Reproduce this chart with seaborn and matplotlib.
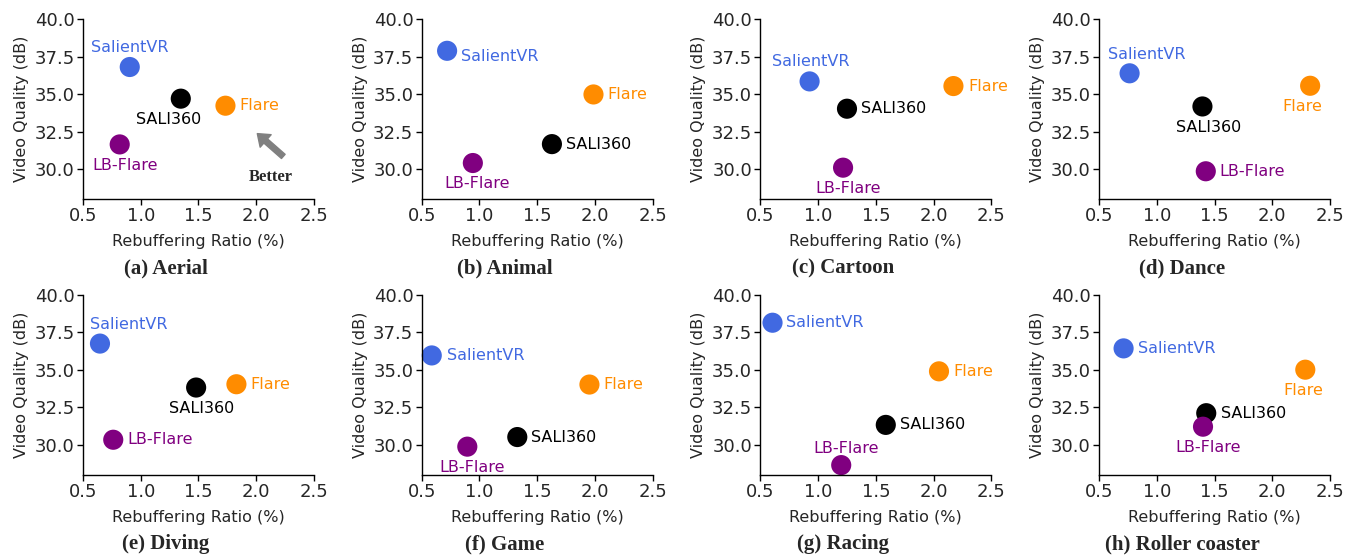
import pandas as pd
import numpy as np
import seaborn as sns
import matplotlib.pyplot as plt
from matplotlib.ticker import FormatStrFormatter

# scenes and methods
scenes = ["Aerial", "Animal", "Cartoon", "Dance", "Diving", "Game", "Racing", "Roller coaster"]
letters = ["a", "b", "c", "d", "e", "f", "g", "h"]
methods = ["SalientVR", "Flare", "SALI360", "LB-Flare"]

# rebuffering ratio (%) and video quality (dB), one value per scene
salientvr_x = [0.905, 0.72, 0.926, 0.764, 0.647, 0.587, 0.605, 0.712]
salientvr_y = [36.80, 37.88, 35.84, 36.38, 36.76, 35.97, 38.15, 36.44]
flare_x = [1.734, 1.988, 2.172, 2.328, 1.829, 1.953, 2.047, 2.286]
flare_y = [34.22, 34.97, 35.53, 35.55, 34.05, 34.03, 34.91, 35.02]
sali360_x = [1.347, 1.628, 1.250, 1.395, 1.480, 1.328, 1.586, 1.428]
sali360_y = [34.69, 31.66, 34.02, 34.17, 33.83, 30.53, 31.34, 32.12]
lbflare_x = [0.818, 0.943, 1.216, 1.424, 0.762, 0.895, 1.200, 1.400]
lbflare_y = [31.64, 30.40, 30.09, 29.85, 30.35, 29.89, 28.66, 31.22]

xs = [salientvr_x, flare_x, sali360_x, lbflare_x]
ys = [salientvr_y, flare_y, sali360_y, lbflare_y]

rows = []
for m, xv, yv in zip(methods, xs, ys):
    for s, x, y in zip(scenes, xv, yv):
        rows.append({"scene": s, "method": m, "rebuf": x, "quality": y})
df = pd.DataFrame(rows)

palette = {"SalientVR": "#4169E1", "Flare": "#FF8C00", "SALI360": "black", "LB-Flare": "#800080"}

# label placement per panel: (dx px, dy px, ha) for SalientVR, Flare, SALI360, LB-Flare
label_pos = [
    [(0, 20, "center"), (14, 0, "left"), (-12, -21, "center"), (5, -21, "center")],
    [(14, -6, "left"), (14, 0, "left"), (14, 0, "left"), (4, -20, "center")],
    [(1, 20, "center"), (15, 0, "left"), (14, 0, "left"), (5, -21, "center")],
    [(17, 19, "center"), (-8, -21, "center"), (6, -21, "center"), (14, 0, "left")],
    [(29, 19, "center"), (14, 0, "left"), (5, -21, "center"), (14, 0, "left")],
    [(15, 0, "left"), (14, 0, "left"), (14, 0, "left"), (5, -21, "center")],
    [(13, 0, "left"), (14, 0, "left"), (14, 0, "left"), (5, 17, "center")],
    [(14, 0, "left"), (-2, -21, "center"), (15, 0, "left"), (5, -21, "center")],
]

sns.set_style("ticks")
plt.rcParams['font.family'] = ['DejaVu Sans']

fig, axes = plt.subplots(2, 4, figsize=(13.54, 5.59), dpi=100)
fig.subplots_adjust(left=83/1354, right=1330/1354, top=1-19/559, bottom=1-475/559,
                    wspace=0.467, hspace=0.533)

for i, ax in enumerate(axes.flatten()):
    sub = df[df["scene"] == scenes[i]]
    sns.scatterplot(data=sub, x="rebuf", y="quality", hue="method", palette=palette,
                    s=210, edgecolor="none", legend=False, ax=ax, clip_on=False)
    for j, m in enumerate(methods):
        r = sub[sub["method"] == m].iloc[0]
        dx, dy, ha = label_pos[i][j]
        ax.annotate(m, (r["rebuf"], r["quality"]), xytext=(dx, dy), textcoords="offset pixels",
                    ha=ha, va="center", fontsize=11.5, color=palette[m])
    ax.set_xlim(0.5, 2.5)
    ax.set_ylim(28, 40)
    ax.set_xticks([0.5, 1.0, 1.5, 2.0, 2.5])
    ax.set_yticks([30.0, 32.5, 35.0, 37.5, 40.0])
    ax.xaxis.set_major_formatter(FormatStrFormatter("%.1f"))
    ax.yaxis.set_major_formatter(FormatStrFormatter("%.1f"))
    ax.tick_params(labelsize=13, length=4, width=1, pad=2, color="black")
    ax.set_xlabel("Rebuffering Ratio (%)", fontsize=11.5, labelpad=6)
    ax.set_ylabel("Video Quality (dB)", fontsize=11.5, labelpad=4)
    for sp in ["left", "bottom"]:
        ax.spines[sp].set_color("black")
        ax.spines[sp].set_linewidth(1.0)
    sns.despine(ax=ax)
    ax.text(0.36, -0.385, f"({letters[i]}) {scenes[i]}", transform=ax.transAxes,
            ha="center", va="center", fontsize=15, fontweight="bold",
            family=["Liberation Serif"])

# "Better" arrow in the first panel
ax0 = axes[0, 0]
ax0.annotate("", xy=(2.01, 32.36), xytext=(2.235, 30.84),
             arrowprops=dict(facecolor="gray", edgecolor="gray", width=4, headwidth=12, headlength=8))
ax0.text(2.13, 29.5, "Better", ha="center", va="center", fontsize=12, fontweight="bold",
         family=["Liberation Serif"])

plt.savefig("out.png", dpi=100)
